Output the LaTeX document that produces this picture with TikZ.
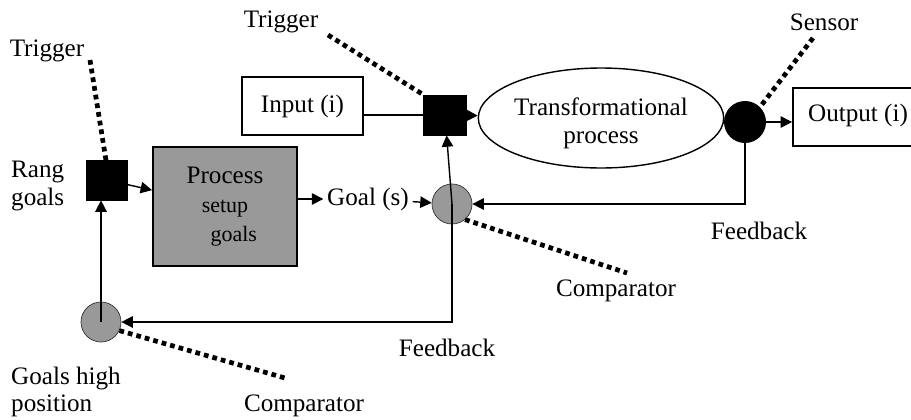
\documentclass[tikz,border=0pt]{standalone}
\usepackage{fontspec}
\setmainfont{Liberation Serif}
\usetikzlibrary{arrows.meta,shapes.geometric}

\newcommand{\smtxt}{\fontsize{12.5}{15}\selectfont}

\begin{document}
\begin{tikzpicture}[x=0.02cm,y=-0.02cm,
    font=\fontsize{14.3}{15.5}\selectfont,
    blk/.style={draw,fill=black,inner sep=0pt},
    cmp/.style={circle,draw=black!80,fill=black!40,minimum size=0.8cm,inner sep=0pt},
    box/.style={draw,line width=1.1pt,inner sep=0pt},
    arr/.style={-{Triangle[length=6.5pt,width=6.5pt]},line width=0.8pt},
    ln/.style={line width=0.8pt},
    dots/.style={line width=2.7pt,dash pattern=on 2.7pt off 2.3pt}]

    \useasboundingbox (0,0) rectangle (911,419);

    \node (trigA) at (47,51) {Trigger};
    \node[align=left,anchor=west] (rang) at (5,186) {Rang\\goals};
    \node[blk,minimum width=0.82cm,minimum height=0.8cm] (sqA) at (107,180) {};
    \node[box,fill=black!40,minimum width=2.88cm,minimum height=2.38cm,align=center] (proc) at (225,206.5)
        {Process\\[1pt]{\smtxt setup}\\[1pt]{\smtxt\hspace{10pt}goals}};
    \node[inner sep=2pt] (goal) at (368,199) {Goal (s)};

    \node (trigB) at (281,22) {Trigger};
    \node[box,line width=0.9pt,minimum width=2.42cm,minimum height=1.16cm] (inbox) at (302.5,106) {Input (i)};
    \node[blk,minimum width=0.86cm,minimum height=0.8cm] (sqB) at (445,115) {};
    \node[cmp] (cmpB) at (452,204) {};
    \node[ellipse,draw,ln,minimum width=3.96cm,minimum height=2cm,align=center,inner sep=0pt] (trans) at (601,118)
        {\rule{0pt}{16pt}Transformational\\process};

    \node (sens) at (824,22) {Sensor};
    \node[circle,fill=black,minimum size=0.84cm,inner sep=0pt] (sensor) at (745,122) {};
    \node[box,minimum width=2.8cm,minimum height=1.16cm] (outbox) at (863,117) {};
    \node (outtxt) at (858,115) {Output (i)};
    \node (fbA) at (759,231) {Feedback};

    \node (cmpBtxt) at (616,291) {Comparator};
    \node (fbB) at (447,348) {Feedback};
    \node[cmp] (cmpA) at (101,322) {};
    \node[align=left,anchor=west] (high) at (5,392) {Goals high\\position};
    \node (cmpAtxt) at (304,406) {Comparator};

    \coordinate (tA) at (90,60);
    \coordinate (tB) at (328,35);
    \coordinate (tS) at (813,38);
    \coordinate (tC) at (627,273);
    \coordinate (tD) at (285,378);

    \draw[arr] (sqA) -- (proc);
    \draw[arr] (proc.east |- goal) -- (goal);
    \draw[arr] (goal) -- (cmpB);
    \draw[arr] (cmpB.center) -- (sqB);
    \draw[ln] (inbox.east |- sqB) -- (sqB);
    \draw[arr] (sqB) -- (trans);
    \draw[ln] (trans) -- (sensor);
    \draw[arr] (sensor.east) -- (outbox.west |- sensor.east);
    \draw[arr] (sensor.center) |- (cmpB);
    \draw[arr] (cmpB.center) |- (cmpA);
    \draw[arr] (cmpA.center) -- (cmpA.center |- sqA.south);

    \draw[dots] (tA) -- ([yshift=-0.14cm]sqA.north);
    \draw[dots] (tB) -- (sqB.north west);
    \draw[dots] (tS) -- (sensor.45);
    \draw[dots] (cmpB.-50) -- (tC);
    \draw[dots] (cmpA.-25) -- (tD);

\end{tikzpicture}
\end{document}
